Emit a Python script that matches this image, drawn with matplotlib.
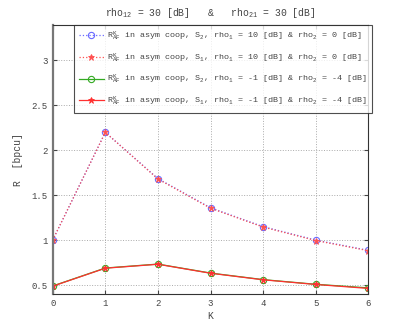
import numpy as np
import matplotlib
matplotlib.use("Agg")
import matplotlib.pyplot as plt

plt.rcParams['font.family'] = ['Liberation Mono', 'DejaVu Sans Mono']
plt.rcParams['mathtext.default'] = 'regular'

# data
K = [0, 1, 2, 3, 4, 5, 6]
s2_hi = [1.0, 2.2, 1.685, 1.36, 1.15, 1.0, 0.886]
s1_hi = [1.0, 2.2, 1.68, 1.355, 1.145, 0.995, 0.882]
s2_lo = [0.489, 0.689, 0.733, 0.633, 0.56, 0.508, 0.468]
s1_lo = [0.487, 0.687, 0.731, 0.631, 0.558, 0.506, 0.462]

labels = [
    r"R$^{K}_{AF}$ in asym coop, S$_{2}$, rho$_{1}$ = 10 [dB] & rho$_{2}$ = 0 [dB]",
    r"R$^{K}_{AF}$ in asym coop, S$_{1}$, rho$_{1}$ = 10 [dB] & rho$_{2}$ = 0 [dB]",
    r"R$^{K}_{AF}$ in asym coop, S$_{2}$, rho$_{1}$ = -1 [dB] & rho$_{2}$ = -4 [dB]",
    r"R$^{K}_{AF}$ in asym coop, S$_{1}$, rho$_{1}$ = -1 [dB] & rho$_{2}$ = -4 [dB]",
]

txt = '#444444'
fig = plt.figure(figsize=(4.07, 3.32), dpi=100)
ax = fig.add_axes([0.1295, 0.1145, 0.7755, 0.8115])

ax.plot(K, s2_hi, ':', color='#6a6aff', marker='o', mfc='none', ms=4.5, lw=0.9, mew=0.8, label=labels[0])
ax.plot(K, s1_hi, ':', color='#ff5050', marker='*', ms=4.5, lw=0.9, mew=0.6, label=labels[1])
ax.plot(K, s2_lo, '-', color='#33aa22', marker='o', mfc='none', ms=4.5, lw=0.9, mew=0.8, label=labels[2])
ax.plot(K, s1_lo, '-', color='#ff3030', marker='*', ms=4.5, lw=0.9, mew=0.6, label=labels[3])

ax.set_xlim(0, 6)
ax.set_ylim(0.4, 3.4)
ax.set_xticks(K)
ax.set_yticks([0.5, 1, 1.5, 2, 2.5, 3])
ax.set_yticklabels(['0.5', '1', '1.5', '2', '2.5', '3'])
ax.tick_params(direction='in', length=3, labelsize=6.5, top=True, right=True, colors=txt)
ax.grid(True, linestyle=':', color='#aaaaaa', lw=0.7)
for s in ax.spines.values():
    s.set_color('#333333')
    s.set_linewidth(0.8)
ax.spines['left'].set_color('#777777')
ax.spines['left'].set_linewidth(1.6)

ax.set_xlabel('K', fontsize=7, color=txt, labelpad=2)
ax.set_ylabel('R  [bpcu]', fontsize=7, color=txt, labelpad=6)
ax.set_title(r'rho$_{12}$ = 30 [dB]   &   rho$_{21}$ = 30 [dB]', fontsize=7, color=txt, pad=6)

leg = ax.legend(loc='upper right', bbox_to_anchor=(1.013, 1.0), fontsize=6.0, frameon=True,
                fancybox=False, edgecolor='#222222', borderaxespad=0, handlelength=3.0,
                labelspacing=1.0, borderpad=0.6, handletextpad=0.4)
leg.get_frame().set_linewidth(0.8)
for t in leg.get_texts():
    t.set_color(txt)

fig.savefig('out.png', dpi=100)
